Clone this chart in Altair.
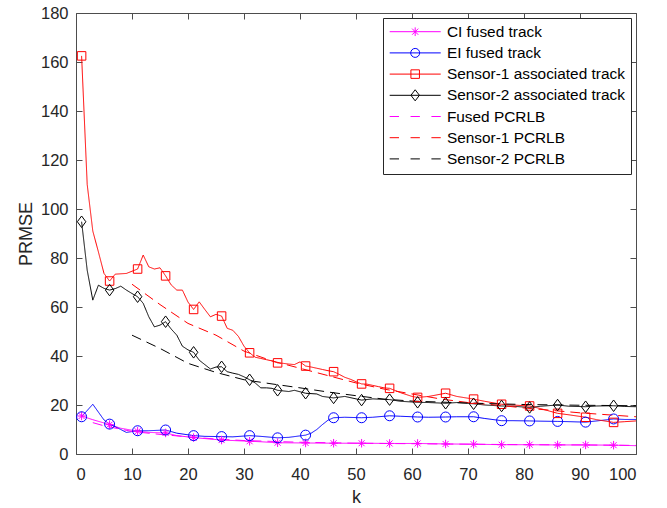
import altair as alt
import pandas as pd

series = ["CI fused track", "EI fused track", "Sensor-1 associated track",
          "Sensor-2 associated track", "Fused PCRLB", "Sensor-1 PCRLB", "Sensor-2 PCRLB"]
series_ids = ["s0", "s1", "s2", "s3", "s4", "s5", "s6"]
colors = ["#ff00ff", "#0000ff", "#ff0000", "#000000", "#ff00ff", "#ff0000", "#000000"]

x_ticks = [0, 10, 20, 30, 40, 50, 60, 70, 80, 90, 100]
y_ticks = [0, 20, 40, 60, 80, 100, 120, 140, 160, 180]
marker_k = [1, 6, 11, 16, 21, 26, 31, 36, 41, 46, 51, 56, 61, 66, 71, 76, 81, 86, 91, 96]

ci_k = [1, 3, 6, 8, 11, 13, 16, 18, 21, 23, 26, 28, 31, 33, 36, 41, 46, 51, 56, 61, 66, 71, 76, 81, 86, 91, 96, 100]
ci_v = [15.5, 14.0, 12.0, 10.5, 9.3, 8.8, 8.6, 7.5, 6.7, 6.3, 5.7, 5.5, 5.2, 5.0, 4.6, 4.5, 4.4, 4.4, 4.3, 4.3, 4.1, 4.0, 3.8, 3.8, 3.7, 3.7, 3.6, 3.4]

ei_k = [1, 3, 5, 6, 8, 9, 11, 13, 16, 18, 21, 23, 26, 28, 31, 33, 36, 38, 40, 41, 42, 43, 44, 45, 46, 48, 51, 53, 56, 58, 61, 63, 66, 68, 71, 73, 76, 78, 81, 83, 86, 88, 91, 93, 96, 98, 100]
ei_v = [15.2, 20.3, 13.9, 12.2, 10.0, 8.8, 9.5, 9.5, 9.8, 8.5, 7.5, 7.2, 7.1, 7.0, 7.5, 7.2, 6.6, 6.8, 7.4, 7.7, 8.5, 10.0, 12.0, 13.8, 14.8, 15.0, 14.8, 15.0, 15.6, 15.4, 15.1, 15.0, 15.1, 15.2, 15.2, 14.5, 13.6, 13.6, 13.5, 13.4, 13.3, 13.2, 13.0, 13.5, 14.3, 14.1, 14.1]

s1_k = [1, 2, 3, 4, 5, 6, 7, 9, 11, 12, 13, 14, 15, 16, 17, 18, 19, 20, 21, 22, 23, 24, 25, 26, 27, 28, 29, 30, 31, 32, 33, 34, 35, 36, 37, 38, 39, 40, 41, 42, 43, 44, 45, 46, 47, 48, 49, 50, 51, 52, 53, 54, 55, 56, 58, 60, 61, 63, 66, 68, 71, 73, 76, 78, 81, 83, 86, 88, 91, 93, 96, 98, 100]
s1_v = [162.5, 110.0, 91.0, 82.5, 73.7, 70.6, 73.4, 73.7, 75.5, 81.2, 76.4, 75.5, 76.0, 72.7, 69.0, 66.9, 66.9, 62.0, 59.0, 62.1, 59.0, 56.0, 57.0, 56.3, 51.3, 50.5, 48.0, 44.0, 41.3, 39.5, 39.0, 38.5, 38.0, 37.2, 37.0, 36.7, 36.5, 37.6, 35.9, 35.5, 35.0, 34.5, 34.0, 33.6, 32.5, 31.3, 30.5, 29.5, 28.6, 28.5, 28.0, 27.5, 27.0, 26.8, 25.0, 23.5, 23.1, 23.5, 24.8, 23.5, 22.4, 21.5, 20.3, 20.0, 19.6, 18.5, 16.6, 16.0, 15.0, 14.0, 12.9, 13.2, 13.5]

s2_k = [1, 2, 3, 4, 5, 6, 7, 8, 9, 10, 11, 12, 13, 14, 15, 16, 17, 18, 19, 20, 21, 22, 23, 24, 25, 26, 27, 28, 29, 30, 31, 32, 33, 34, 35, 36, 38, 39, 41, 43, 44, 46, 48, 51, 53, 56, 58, 61, 63, 66, 68, 71, 73, 76, 78, 81, 83, 86, 88, 91, 93, 96, 98, 100]
s2_v = [94.8, 75.0, 62.8, 68.9, 67.6, 66.9, 67.5, 68.5, 66.9, 65.5, 64.2, 61.5, 56.0, 51.9, 52.6, 54.0, 51.0, 48.5, 44.0, 42.5, 41.5, 38.3, 36.5, 34.7, 35.5, 35.6, 33.6, 33.0, 32.5, 31.5, 30.3, 29.0, 27.0, 27.0, 26.8, 26.0, 25.5, 26.0, 24.8, 24.5, 23.5, 22.9, 23.5, 22.0, 22.5, 22.2, 21.5, 21.1, 21.0, 20.7, 21.0, 20.5, 20.0, 19.6, 19.5, 19.0, 19.5, 20.0, 19.5, 19.3, 19.6, 19.7, 19.4, 19.3]

fp_k = [3, 5, 10, 15, 20, 25, 30, 40, 50, 60, 70, 80, 90, 100]
fp_v = [12.8, 11.5, 9.2, 8.0, 7.0, 6.1, 5.5, 4.8, 4.4, 4.2, 4.0, 3.8, 3.7, 3.5]

p1_k = [10, 15, 20, 25, 30, 35, 40, 45, 50, 55, 60, 65, 70, 75, 80, 85, 90, 95, 100]
p1_v = [69.3, 61.0, 53.3, 48.5, 42.0, 38.0, 35.0, 32.0, 29.0, 26.5, 24.5, 22.5, 21.0, 20.0, 18.8, 17.8, 16.8, 16.0, 15.2]

p2_k = [10, 15, 20, 25, 30, 35, 40, 45, 50, 55, 60, 70, 80, 90, 100]
p2_v = [48.5, 43.1, 37.0, 33.3, 30.3, 28.6, 27.0, 25.3, 23.8, 22.4, 21.6, 20.8, 20.2, 19.9, 19.7]

all_k = [ci_k, ei_k, s1_k, s2_k, fp_k, p1_k, p2_k]
all_v = [ci_v, ei_v, s1_v, s2_v, fp_v, p1_v, p2_v]

rows = []
for name, sid, ks, vs in zip(series, series_ids, all_k, all_v):
    for k, v in zip(ks, vs):
        rows.append({"series": name, "sid": sid, "k": k, "v": v})
df = pd.DataFrame(rows)
mdf = df[df["series"].isin(series[:4]) & df["k"].isin(marker_k)]

dashes = [[1, 0], [1, 0], [1, 0], [1, 0], [10, 6], [10, 6], [10, 6]]

marker_paths = [
    "M0,-0.85L0,0.85M-0.85,0L0.85,0M-0.6,-0.6L0.6,0.6M-0.6,0.6L0.6,-0.6",
    "M1,0A1,1,0,1,1,-1,0A1,1,0,1,1,1,0Z",
    "M-0.85,-0.85L0.85,-0.85L0.85,0.85L-0.85,0.85Z",
    "M0,-1.15L0.85,0L0,1.15L-0.85,0Z",
]
# legend symbols: unit = 7 px, line runs from x=-1 to x=6.29 (51 px), centre at 2.64
legend_paths = [
    "M-1,0L6.29,0M2.64,-0.62L2.64,0.62M2.2,-0.44L3.08,0.44M2.2,0.44L3.08,-0.44",
    "M-1,0L6.29,0M3.28,0A0.64,0.64,0,1,1,2.0,0A0.64,0.64,0,1,1,3.28,0Z",
    "M-1,0L6.29,0M2.03,-0.61L3.25,-0.61L3.25,0.61L2.03,0.61Z",
    "M-1,0L6.29,0M2.64,-0.79L3.25,0L2.64,0.79L2.03,0Z",
    "M-1,0L0.33,0M1.98,0L3.31,0M4.96,0L6.29,0",
    "M-1,0L0.33,0M1.98,0L3.31,0M4.96,0L6.29,0",
    "M-1,0L0.33,0M1.98,0L3.31,0M4.96,0L6.29,0",
]

FONT = "Liberation Sans"
AX = "#4d4d4d"
x_scale = alt.Scale(domain=[0, 100], nice=False, zero=False)
y_scale = alt.Scale(domain=[0, 180], nice=False)
stroke_scale = alt.Scale(domain=series_ids, range=colors)
dash_scale = alt.Scale(domain=series_ids, range=dashes)
color_scale = alt.Scale(domain=series, range=colors)

lines = alt.Chart(df).mark_line(strokeWidth=1).encode(
    x=alt.X("k:Q", scale=x_scale,
            axis=alt.Axis(orient="bottom", values=x_ticks, ticks=False, domain=False, grid=False,
                          labelPadding=12, title="k", titlePadding=6)),
    y=alt.Y("v:Q", scale=y_scale,
            axis=alt.Axis(orient="left", values=y_ticks, ticks=False, domain=False, grid=False,
                          labelPadding=8, title="PRMSE", titlePadding=5)),
    stroke=alt.Stroke("sid:N", scale=stroke_scale, legend=None),
    strokeDash=alt.StrokeDash("sid:N", scale=dash_scale, legend=None),
)

marker_layers = []
for sid, path in zip(series_ids[:4], marker_paths):
    marker_layers.append(
        alt.Chart(mdf[mdf["sid"] == sid]).mark_point(
            shape=path, size=100, filled=False, strokeWidth=1, opacity=1
        ).encode(
            x=alt.X("k:Q", scale=x_scale, axis=None),
            y=alt.Y("v:Q", scale=y_scale, axis=None),
            stroke=alt.Stroke("sid:N", scale=stroke_scale, legend=None),
        )
    )

legend_layer = alt.Chart(df).transform_filter("false").mark_point(
    filled=False, strokeWidth=1, opacity=1
).encode(
    x=alt.X("k:Q", scale=x_scale,
            axis=alt.Axis(orient="bottom", offset=-6, tickSize=6, values=x_ticks, labels=False,
                          domain=False, grid=False, title=None)),
    y=alt.Y("v:Q", scale=y_scale,
            axis=alt.Axis(orient="left", offset=-6, tickSize=6, values=y_ticks, labels=False,
                          domain=False, grid=False, title=None)),
    color=alt.Color("series:N", scale=color_scale, legend=alt.Legend(title=None)),
    shape=alt.Shape("series:N", scale=alt.Scale(domain=series, range=legend_paths),
                    legend=alt.Legend(title=None)),
)

tick_layer = alt.Chart(df).transform_filter("false").mark_point(opacity=0).encode(
    x=alt.X("k:Q", scale=x_scale,
            axis=alt.Axis(orient="top", offset=-6, tickSize=6, values=x_ticks, labels=False,
                          domain=False, grid=False, title=None)),
    y=alt.Y("v:Q", scale=y_scale,
            axis=alt.Axis(orient="right", offset=-6, tickSize=6, values=y_ticks, labels=False,
                          domain=False, grid=False, title=None)),
)

chart = alt.layer(lines, *marker_layers, legend_layer, tick_layer).resolve_axis(
    x="independent", y="independent"
).properties(
    width=560, height=441,
    autosize=alt.AutoSizeParams(type="none"),
    padding={"left": 76, "top": 13, "right": 31, "bottom": 54},
).configure_view(
    stroke=AX, strokeWidth=1
).configure_axis(
    labelFont=FONT, labelFontSize=16.5, labelColor="#262626",
    titleFont=FONT, titleFontSize=18, titleFontWeight="normal", titleColor="#262626",
    tickColor=AX, tickWidth=1,
).configure_legend(
    orient="top-right", offset=5, padding=6, rowPadding=4.2,
    symbolSize=196, symbolStrokeWidth=1, labelOffset=42.5,
    labelFont=FONT, labelFontSize=15.4, labelColor="#000000", labelLimit=400,
    strokeColor="#262626", fillColor="#ffffff",
)

chart.save("out.html", embed_options={"renderer": "svg", "actions": False})
